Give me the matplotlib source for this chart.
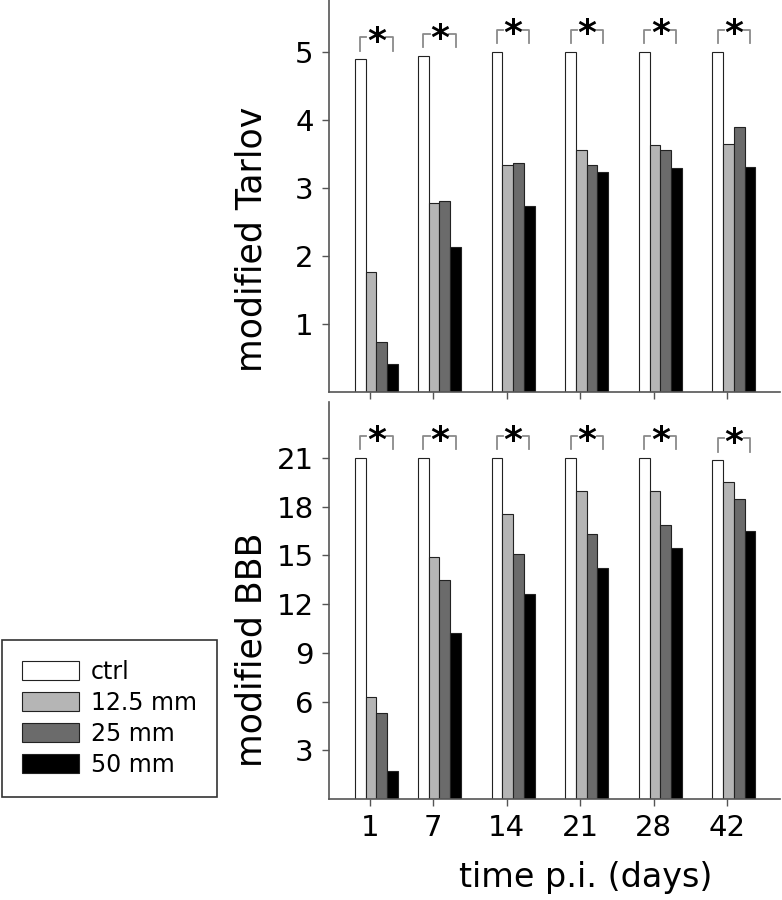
import numpy as np
import matplotlib
matplotlib.use("Agg")
import matplotlib.pyplot as plt

# time points (days post injury)
days = ["1", "7", "14", "21", "28", "42"]
groups = ["ctrl", "12.5 mm", "25 mm", "50 mm"]

# modified Tarlov score
tarlov_ctrl = [4.89, 4.94, 5.0, 5.0, 5.0, 5.0]
tarlov_125 = [1.76, 2.78, 3.33, 3.55, 3.63, 3.65]
tarlov_25 = [0.74, 2.81, 3.37, 3.33, 3.56, 3.89]
tarlov_50 = [0.41, 2.13, 2.74, 3.23, 3.29, 3.31]

# modified BBB score
bbb_ctrl = [21.0, 21.0, 21.0, 21.0, 21.0, 20.86]
bbb_125 = [6.28, 14.9, 17.53, 19.0, 19.0, 19.52]
bbb_25 = [5.32, 13.47, 15.1, 16.32, 16.85, 18.47]
bbb_50 = [1.75, 10.25, 12.62, 14.22, 15.48, 16.48]

colors = ["white", "#b5b5b5", "#6b6b6b", "black"]
xpos = np.array([1, 7, 14, 21, 28, 35])  # 42 drawn at equal spacing
w = 1.02

plt.rcParams["font.family"] = "DejaVu Sans"

fig = plt.figure(figsize=(7.82, 9.0), dpi=100)
ax1 = fig.add_axes([0.4207, 0.5644, 0.5767, 0.4356])
ax2 = fig.add_axes([0.4207, 0.1122, 0.5767, 0.4411])


def draw(ax, series, ylim, ticks):
    for i, vals in enumerate(series):
        ax.bar(xpos - 1.4 * w + i * w, vals, width=w, align="edge",
               color=colors[i], edgecolor="#222222", linewidth=0.8,
               label=groups[i])
    rng = ylim[1] - ylim[0]
    # significance brackets
    for k, x in enumerate(xpos):
        x0 = x - 0.9 * w
        x1 = x + 2.1 * w
        xc = (x0 + x1) / 2
        base = series[0][k] + 0.022 * rng
        top = base + 0.034 * rng
        g = 0.95
        ax.plot([x0, x0, xc - g], [base, top, top], color="#8a8a8a", lw=1.3)
        ax.plot([xc + g, x1, x1], [top, top, base], color="#8a8a8a", lw=1.3)
        ax.text(xc, top - 0.012 * rng, "*", ha="center", va="center",
                fontsize=26, fontweight="bold")
    ax.set_xlim(-2.9, 40.0)
    ax.set_ylim(*ylim)
    ax.set_yticks(ticks)
    ax.set_xticks(xpos)
    for s in ["top", "right"]:
        ax.spines[s].set_visible(False)
    for s in ["left", "bottom"]:
        ax.spines[s].set_color("#555555")
        ax.spines[s].set_linewidth(1.2)
    ax.tick_params(axis="both", direction="out", length=5, width=1,
                   color="#555555", labelsize=21, pad=6)


draw(ax1, [tarlov_ctrl, tarlov_125, tarlov_25, tarlov_50], (0, 5.76),
     [1, 2, 3, 4, 5])
ax1.set_xticklabels([])
ax1.set_ylabel("modified Tarlov", fontsize=25)
ax1.yaxis.set_label_coords(-0.135, 0.39)

draw(ax2, [bbb_ctrl, bbb_125, bbb_25, bbb_50], (0, 24.45),
     [3, 6, 9, 12, 15, 18, 21])
ax2.set_xticklabels(days)
ax2.set_ylabel("modified BBB", fontsize=25)
ax2.yaxis.set_label_coords(-0.135, 0.375)
ax2.set_xlabel("time p.i. (days)", fontsize=24)
ax2.xaxis.set_label_coords(0.57, -0.157)

handles, labels = ax2.get_legend_handles_labels()
leg = fig.legend(handles, labels, loc="lower left",
                 bbox_to_anchor=(0.0026, 0.1144), borderaxespad=0,
                 fontsize=17, frameon=True, fancybox=False,
                 edgecolor="#333333", framealpha=1,
                 handlelength=2.4, handleheight=0.85, labelspacing=0.3,
                 borderpad=0.85, handletextpad=0.5)
leg.get_frame().set_linewidth(1.2)

fig.savefig("out.png", dpi=100)
